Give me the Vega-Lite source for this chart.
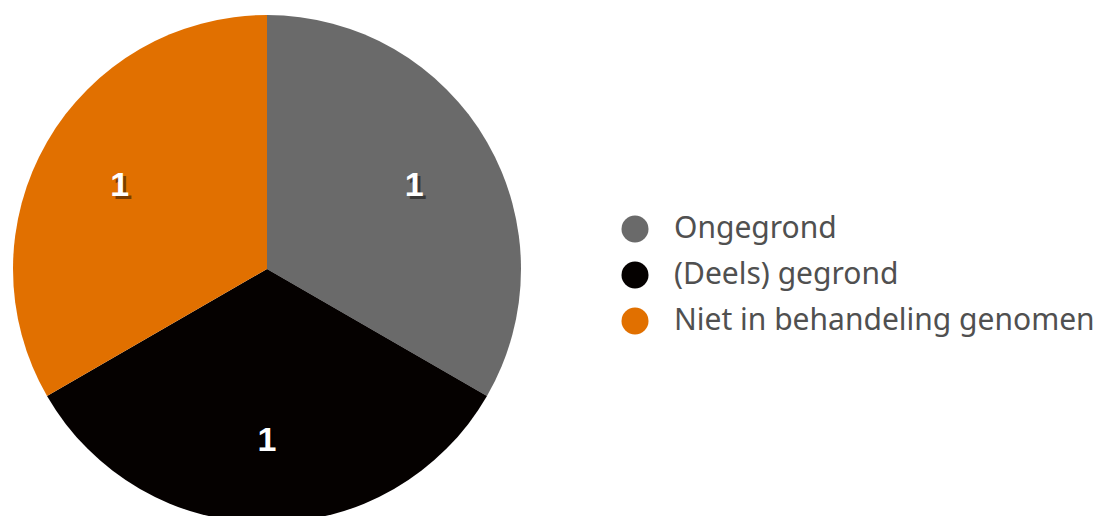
{
  "$schema": "https://vega.github.io/schema/vega-lite/v6.json",
  "autosize": "none",
  "padding": {"left": 0, "top": 0, "right": 568, "bottom": 0},
  "width": 534,
  "height": 538,
  "background": "white",
  "data": {
    "values": [
      {"categorie": "Ongegrond", "aantal": 1, "volgorde": 1},
      {"categorie": "(Deels) gegrond", "aantal": 1, "volgorde": 2},
      {"categorie": "Niet in behandeling genomen", "aantal": 1, "volgorde": 3}
    ]
  },
  "encoding": {
    "theta": {"field": "aantal", "type": "quantitative", "stack": true},
    "order": {"field": "volgorde", "type": "quantitative"}
  },
  "layer": [
    {
      "mark": {"type": "arc", "outerRadius": 254},
      "encoding": {
        "color": {
          "field": "categorie",
          "type": "nominal",
          "scale": {
            "domain": ["Ongegrond", "(Deels) gegrond", "Niet in behandeling genomen"],
            "range": ["#6a6a6a", "#050100", "#e17000"]
          },
          "legend": {
            "title": null,
            "orient": "none",
            "legendX": 620,
            "legendY": 214,
            "symbolType": "circle",
            "symbolSize": 729,
            "symbolStrokeWidth": 0,
            "labelFont": "Noto Sans",
            "labelFontSize": 30,
            "labelColor": "#505050",
            "labelOffset": 24,
            "labelLimit": 600,
            "rowPadding": 16
          }
        }
      }
    },
    {
      "mark": {"type": "text", "radius": 170, "font": "Liberation Sans", "fontWeight": "bold", "fontSize": 34, "fill": "#000000", "opacity": 0.45, "dx": 3, "dy": 5, "baseline": "middle", "align": "center"},
      "encoding": {"text": {"field": "aantal", "type": "quantitative"}}
    },
    {
      "mark": {"type": "text", "radius": 170, "font": "Liberation Sans", "fontWeight": "bold", "fontSize": 34, "fill": "white", "dy": 2, "baseline": "middle", "align": "center"},
      "encoding": {"text": {"field": "aantal", "type": "quantitative"}}
    }
  ]
}
